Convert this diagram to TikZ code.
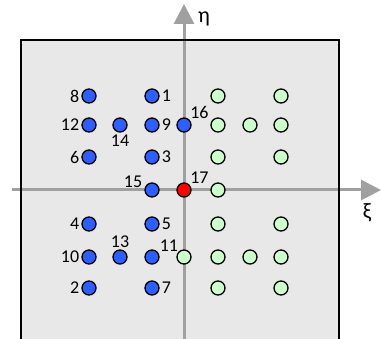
\documentclass[tikz,border=0pt]{standalone}
\usepackage{fontspec}
\setmainfont{Carlito}
\usetikzlibrary{arrows.meta}
\usetikzlibrary{positioning}

\definecolor{panel}{RGB}{232,232,232}
\definecolor{axisgray}{RGB}{160,160,160}
\definecolor{ptblue}{RGB}{45,95,255}
\definecolor{ptgreen}{RGB}{204,255,204}
\definecolor{ptred}{RGB}{255,0,0}

\tikzset{
  pt/.style={circle, draw=black, line width=1.3pt, minimum size=14pt, inner sep=0pt},
  bluept/.style={pt, fill=ptblue},
  greenpt/.style={pt, fill=ptgreen},
  redpt/.style={pt, fill=ptred},
  axis/.style={line width=3pt, draw=axisgray, -{Triangle[length=20pt,width=20pt]}},
  every label/.style={font=\fontsize{18}{18}\selectfont, inner sep=0pt},
  label distance=2pt
}

\begin{document}
\begin{tikzpicture}[x=1pt, y=-1pt]
        \useasboundingbox (0,0) rectangle (381,339);
        \clip (0,0) rectangle (381,339);

        % Panel
        \fill[panel] (21,40) rectangle (339,350);

        % Axes
        \coordinate (xs) at (12,190);
        \coordinate (xe) at (381,190);
        \coordinate (ys) at (184,345);
        \coordinate (ye) at (184,4);
        \draw[axis] (xs) -- (xe);
        \draw[axis] (ys) -- (ye);
        \node[font=\fontsize{22}{22}\selectfont] (eta) at (204,19) {η};
        \node[font=\fontsize{22}{22}\selectfont] (xi) at (367,213) {ξ};

        \draw[line width=2.5pt] (21,350) |- (339,40) -- (339,350);

        % Right half
        \foreach \x/\y [count=\i] in {218/96, 281/96, 218/125, 250/125, 281/125,
          218/157, 281/157, 218/190, 218/224, 281/224, 184/257, 218/257,
          250/257, 281/257, 218/288, 281/288}
          \node[greenpt] (g\i) at (\x,\y) {};

        % Left half
        \node[bluept, label=right:1] (p1) at (152,96) {};
        \node[bluept, label=left:2] (p2) at (89,288) {};
        \node[bluept, label=right:3] (p3) at (152,157) {};
        \node[bluept, label=left:4] (p4) at (89,224) {};
        \node[bluept, label=right:5] (p5) at (152,224) {};
        \node[bluept, label=left:6] (p6) at (89,157) {};
        \node[bluept, label=right:7] (p7) at (152,288) {};
        \node[bluept, label=left:8] (p8) at (89,96) {};
        \node[bluept, label=right:9] (p9) at (152,125) {};
        \node[bluept, label=left:10] (p10) at (89,257) {};
        \node[bluept, label={[yshift=11pt, xshift=-2pt]right:11}] (p11) at (152,257) {};
        \node[bluept, label=left:12] (p12) at (89,125) {};
        \node[bluept, label=above:13] (p13) at (120,257) {};
        \node[bluept, label=below:14] (p14) at (120,125) {};
        \node[bluept, label={[yshift=8pt]left:15}] (p15) at (152,190) {};
        \node[bluept, label={[label distance=1pt]45:16}] (p16) at (184,125) {};
        \node[redpt, label={[label distance=1pt]45:17}] (p17) at (184,190) {};
      \end{tikzpicture}
\end{document}
